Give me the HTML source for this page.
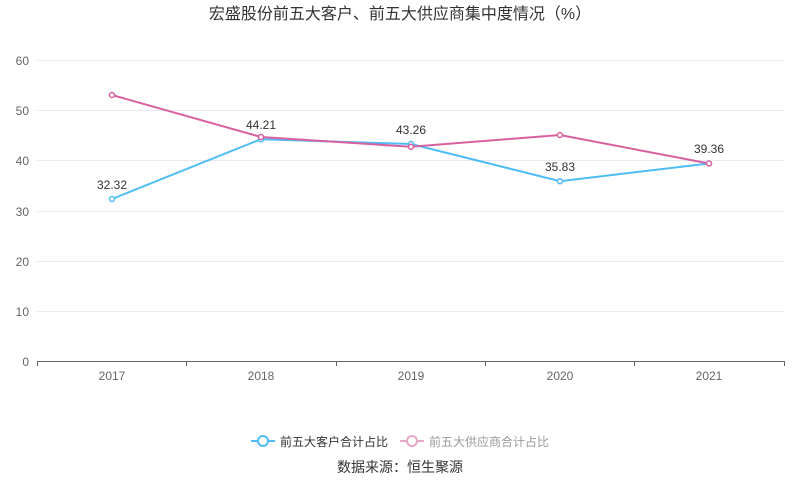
<!DOCTYPE html>
<html><head><meta charset="utf-8"><style>
body{margin:0;background:#fff;}
svg{display:block;font-family:"Liberation Sans","Noto Sans CJK SC",sans-serif;}
</style></head><body>
<svg width="800" height="501" viewBox="0 0 800 501">
<text x="400" y="19" text-anchor="middle" font-size="16" fill="#333">宏盛股份前五大客户、前五大供应商集中度情况（%）</text>
<g stroke="#e6e9f0" stroke-width="1">
<line x1="37" y1="60.5" x2="784" y2="60.5"/>
<line x1="37" y1="110.5" x2="784" y2="110.5"/>
<line x1="37" y1="160.5" x2="784" y2="160.5"/>
<line x1="37" y1="211.5" x2="784" y2="211.5"/>
<line x1="37" y1="261.5" x2="784" y2="261.5"/>
<line x1="37" y1="311.5" x2="784" y2="311.5"/>
</g>
<line x1="37" y1="361.5" x2="784" y2="361.5" stroke="#666"/>
<g stroke="#666"><line x1="37.5" y1="361" x2="37.5" y2="366"/><line x1="186.5" y1="361" x2="186.5" y2="366"/><line x1="336.5" y1="361" x2="336.5" y2="366"/><line x1="485.5" y1="361" x2="485.5" y2="366"/><line x1="634.5" y1="361" x2="634.5" y2="366"/><line x1="784.5" y1="361" x2="784.5" y2="366"/></g>
<g font-size="12" fill="#666" text-anchor="end">
<text x="29" y="65">60</text><text x="29" y="115">50</text><text x="29" y="165">40</text><text x="29" y="216">30</text><text x="29" y="266">20</text><text x="29" y="316">10</text><text x="29" y="366">0</text>
</g>
<g font-size="12" fill="#666" text-anchor="middle">
<text x="112" y="380">2017</text><text x="261" y="380">2018</text><text x="411" y="380">2019</text><text x="560" y="380">2020</text><text x="709" y="380">2021</text>
</g>
<polyline fill="none" stroke="#4fbdf5" stroke-width="2" points="112,199 261,139.2 411,144 560,181.2 709,163.5"/>
<polyline fill="none" stroke="#d9609f" stroke-width="2" points="112,95 261,137 411,146.8 560,135 709,163.5"/>
<g fill="#fff" stroke="#4fbdf5" stroke-width="1.5">
<circle cx="112" cy="199" r="2.5"/><circle cx="261" cy="139.2" r="2.5"/><circle cx="411" cy="144" r="2.5"/><circle cx="560" cy="181.2" r="2.5"/><circle cx="709" cy="163.5" r="2.5"/></g>
<g fill="#fff" stroke="#d9609f" stroke-width="1.5">
<circle cx="112" cy="95" r="2.5"/><circle cx="261" cy="137" r="2.5"/><circle cx="411" cy="146.8" r="2.5"/><circle cx="560" cy="135" r="2.5"/><circle cx="709" cy="163.5" r="2.5"/></g>
<g font-size="12" fill="#333" text-anchor="middle">
<text x="112" y="189">32.32</text><text x="261" y="129">44.21</text><text x="411" y="134">43.26</text><text x="560" y="171">35.83</text><text x="709" y="153">39.36</text>
</g>
<line x1="251" y1="441" x2="275" y2="441" stroke="#4fbdf5" stroke-width="2"/>
<circle cx="263" cy="441" r="5" fill="#fff" stroke="#4fbdf5" stroke-width="2"/>
<text x="280" y="446" font-size="12" fill="#333">前五大客户合计占比</text>
<line x1="400" y1="441" x2="424" y2="441" stroke="#e8a6c8" stroke-width="2"/>
<circle cx="412" cy="441" r="5" fill="#fff" stroke="#e8a6c8" stroke-width="2"/>
<text x="429" y="446" font-size="12" fill="#999">前五大供应商合计占比</text>
<text x="400" y="472" text-anchor="middle" font-size="14" fill="#333">数据来源：恒生聚源</text>
</svg>
</body></html>
